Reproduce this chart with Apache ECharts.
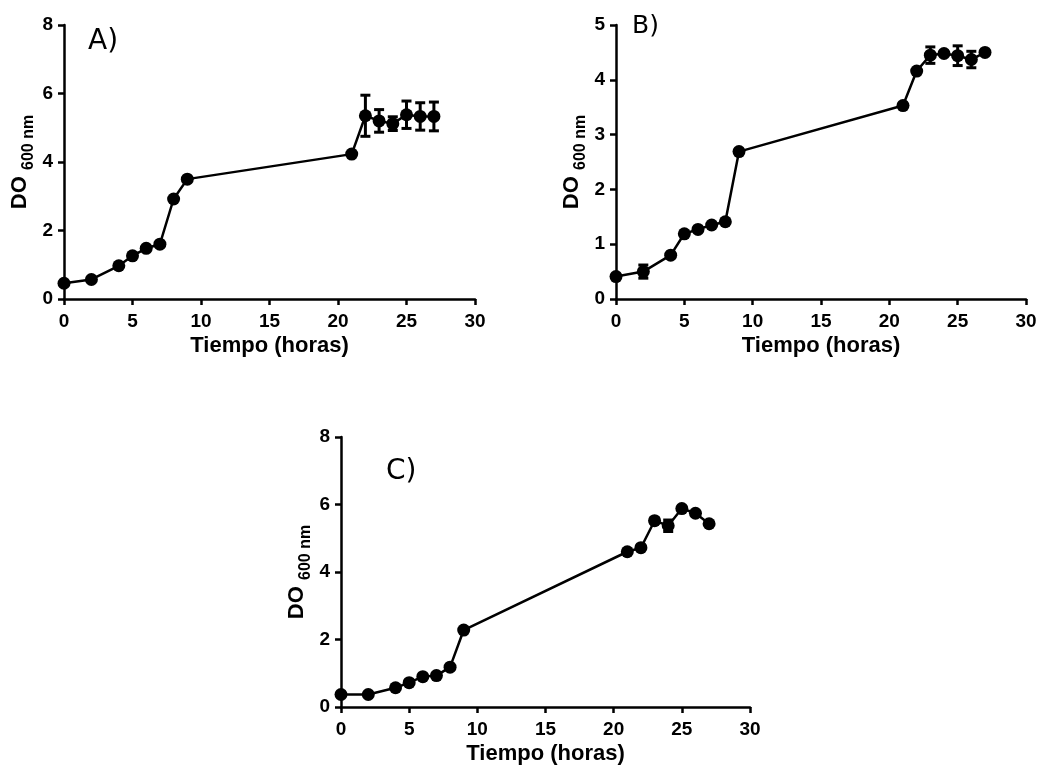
<!DOCTYPE html>
<html>
<head>
<meta charset="utf-8">
<title>DO 600 nm</title>
<script src="https://cdn.jsdelivr.net/npm/echarts@6/dist/echarts.min.js"></script>
<style>
  html, body { margin: 0; padding: 0; background: #fff; }
  #chart { width: 1041px; height: 776px; }
</style>
</head>
<body>
<div id="chart"></div>
<script>
// tiempo de muestreo (horas)
const hours = [0, 2, 4, 5, 6, 7, 8, 9, 21, 22, 23, 24, 25, 26, 27];

// panel A
const valuesA = [0.46, 0.57, 0.97, 1.26, 1.48, 1.60, 2.92, 3.50, 4.23, 5.35, 5.20, 5.12, 5.38, 5.33, 5.33];
const errorsA = [0, 0, 0, 0, 0, 0, 0, 0, 0, 0.60, 0.33, 0.20, 0.40, 0.40, 0.42];

// panel B
const valuesB = [0.41, 0.50, 0.80, 1.19, 1.27, 1.35, 1.41, 2.69, 3.53, 4.16, 4.45, 4.48, 4.44, 4.37, 4.50];
const errorsB = [0, 0.12, 0, 0, 0, 0, 0, 0, 0, 0, 0.15, 0, 0.18, 0.15, 0];

// panel C
const valuesC = [0.37, 0.37, 0.57, 0.72, 0.90, 0.93, 1.18, 2.28, 4.60, 4.72, 5.52, 5.37, 5.88, 5.74, 5.43];
const errorsC = [0, 0, 0, 0, 0, 0, 0, 0, 0, 0, 0.08, 0.17, 0, 0, 0];

const xTicks = { min: 0, max: 30, interval: 5 };
const yTicksA = { min: 0, max: 8, interval: 2 };
const yTicksB = { min: 0, max: 5, interval: 1 };
const yTicksC = { min: 0, max: 8, interval: 2 };

const panelLabels = ['A)', 'B)', 'C)'];

const FONT = '"Liberation Sans", Arial, sans-serif';

const chart = echarts.init(document.getElementById('chart'));

const axisLine = { show: true, onZero: false, lineStyle: { color: '#000', width: 2.5 } };
const axisTick = { show: true, inside: false, length: 6, lineStyle: { color: '#000', width: 2.5 } };

const makeX = (gridIndex) => ({
    type: 'value',
    gridIndex: gridIndex,
    min: xTicks.min,
    max: xTicks.max,
    interval: xTicks.interval,
    name: 'Tiempo (horas)',
    nameLocation: 'middle',
    nameGap: 36,
    nameTextStyle: { fontFamily: FONT, fontWeight: 'bold', fontSize: 22, color: '#000' },
    axisLine: axisLine,
    axisTick: axisTick,
    splitLine: { show: false },
    axisLabel: { fontFamily: FONT, fontWeight: 'bold', fontSize: 19, color: '#000', margin: 13 }
});

const makeY = (gridIndex, ticks) => ({
    type: 'value',
    gridIndex: gridIndex,
    min: ticks.min,
    max: ticks.max,
    interval: ticks.interval,
    name: '{a|DO }{b|600 nm}',
    nameLocation: 'middle',
    nameRotate: 90,
    nameGap: 27,
    nameTextStyle: {
        color: '#000',
        rich: {
            a: { fontFamily: FONT, fontWeight: 'bold', fontSize: 22, color: '#000', verticalAlign: 'bottom', padding: [0, 0, 6, 0] },
            b: { fontFamily: FONT, fontWeight: 'bold', fontSize: 16, color: '#000', verticalAlign: 'bottom' }
        }
    },
    axisLine: axisLine,
    axisTick: axisTick,
    splitLine: { show: false },
    axisLabel: { fontFamily: FONT, fontWeight: 'bold', fontSize: 19, color: '#000', margin: 11 }
});

const lineSeries = (idx, values) => ({
    type: 'line',
    xAxisIndex: idx,
    yAxisIndex: idx,
    data: hours.map((h, i) => [h, values[i]]),
    symbol: 'circle',
    symbolSize: 13,
    itemStyle: { color: '#000' },
    lineStyle: { color: '#000', width: 2.5 },
    animation: false,
    z: 2
});

// barras de error (media ± DE)
const errorSeries = (idx, values, errors) => ({
    type: 'custom',
    xAxisIndex: idx,
    yAxisIndex: idx,
    data: hours.map((h, i) => [h, values[i], errors[i]]).filter(d => d[2] > 0),
    renderItem: function(params, api) {
        const x = api.value(0);
        const y = api.value(1);
        const e = api.value(2);
        const top = api.coord([x, y + e]);
        const bottom = api.coord([x, y - e]);
        const half = 5;
        const style = { stroke: '#000', lineWidth: 3 };
        return {
            type: 'group',
            children: [
                { type: 'line', shape: { x1: top[0], y1: top[1], x2: bottom[0], y2: bottom[1] }, style: style },
                { type: 'line', shape: { x1: top[0] - half, y1: top[1], x2: top[0] + half, y2: top[1] }, style: style },
                { type: 'line', shape: { x1: bottom[0] - half, y1: bottom[1], x2: bottom[0] + half, y2: bottom[1] }, style: style }
            ]
        };
    },
    animation: false,
    z: 3
});

const labelStyle = { fontFamily: '"DejaVu Sans", Verdana, sans-serif', fontWeight: 'normal', fontSize: 28, color: '#000' };

const option = {
    backgroundColor: '#fff',
    animation: false,
    title: [
        { text: panelLabels[0], left: 88, top: 28, padding: 0, textStyle: labelStyle },
        { text: panelLabels[1], left: 632, top: 14, padding: 0, textStyle: Object.assign({}, labelStyle, { fontSize: 25 }) },
        { text: panelLabels[2], left: 386, top: 458, padding: 0, textStyle: labelStyle }
    ],
    grid: [
        { left: 64, top: 25, width: 411, height: 274 },
        { left: 616, top: 25, width: 410, height: 274 },
        { left: 341, top: 437, width: 409, height: 270 }
    ],
    xAxis: [makeX(0), makeX(1), makeX(2)],
    yAxis: [makeY(0, yTicksA), makeY(1, yTicksB), makeY(2, yTicksC)],
    series: [
        lineSeries(0, valuesA),
        errorSeries(0, valuesA, errorsA),
        lineSeries(1, valuesB),
        errorSeries(1, valuesB, errorsB),
        lineSeries(2, valuesC),
        errorSeries(2, valuesC, errorsC)
    ]
};

chart.setOption(option);
</script>
</body>
</html>
